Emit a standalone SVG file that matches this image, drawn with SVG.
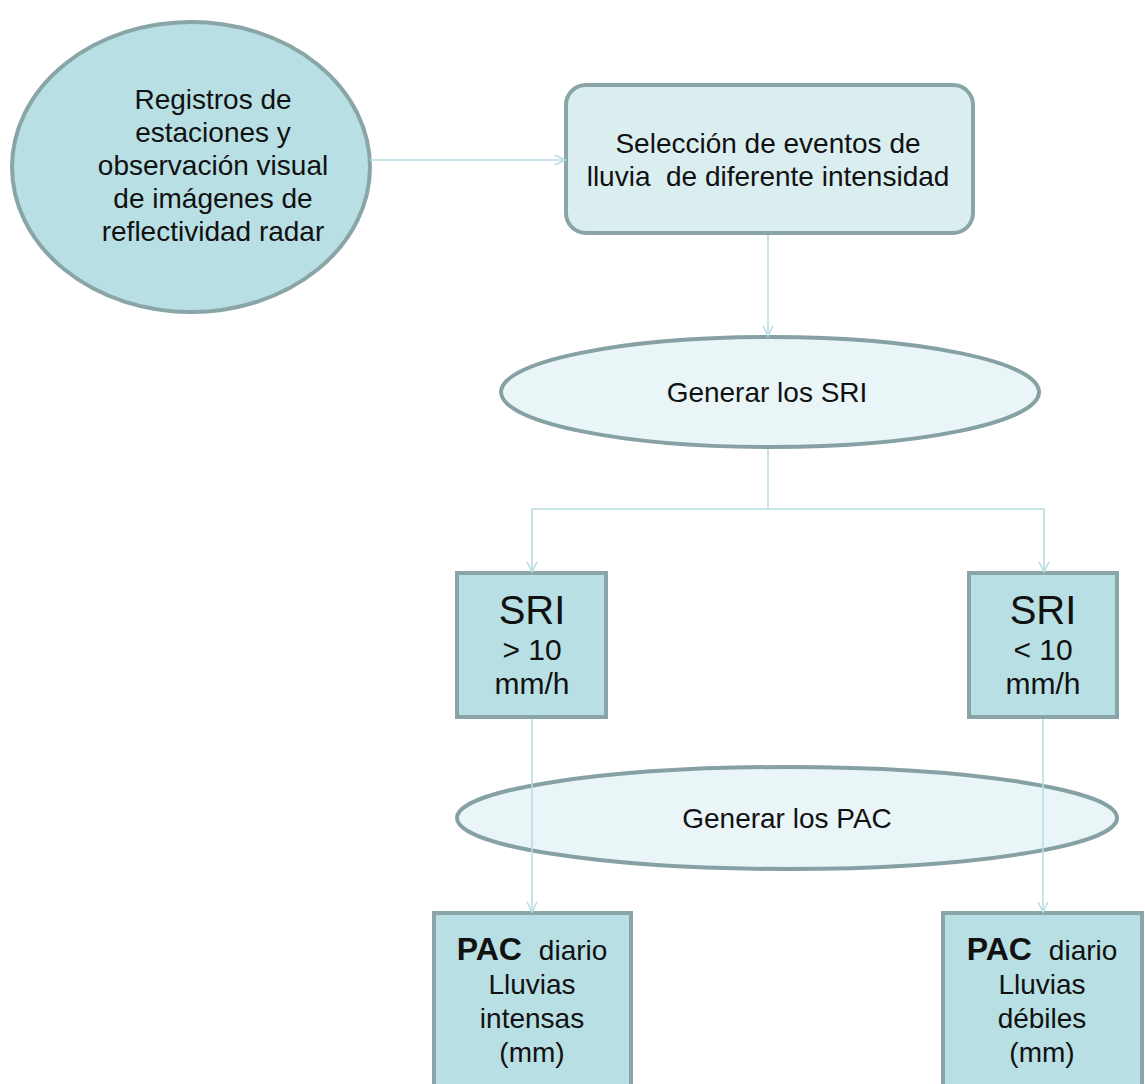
<svg xmlns="http://www.w3.org/2000/svg" width="1145" height="1084" viewBox="0 0 1145 1084">
  <style>
    .t { font-family: "Liberation Sans", Arial, sans-serif; font-size: 28px; fill: #111; text-anchor: middle; }
    .big { font-size: 40px; }
    .mid { font-size: 30px; }
    .bold { font-weight: bold; font-size: 32px; }
    .solid { fill: #b8dfe3; stroke: #8aa5a7; stroke-width: 4; }
    .pale { fill: #daeef0; stroke: #8aa5a7; stroke-width: 4; }
    .light { fill: #eaf5f7; stroke: #86a1a3; stroke-width: 4; }
    .conn { fill: none; stroke: #b9dde2; stroke-width: 1.6; }
  </style>
  <defs>
    <marker id="arrow" viewBox="0 0 12 12" refX="11" refY="6" markerWidth="12" markerHeight="12" markerUnits="userSpaceOnUse" orient="auto">
      <path d="M1,1 L11,6 L1,11" fill="none" stroke="#b9dde2" stroke-width="1.6"/>
    </marker>
  </defs>
  <rect width="1145" height="1084" fill="#ffffff"/>

  <!-- source: station records + radar images -->
  <g id="n-registros">
    <ellipse class="solid" cx="191" cy="167" rx="179" ry="145" stroke-width="3"/>
    <text class="t" x="213"><tspan x="213" y="109">Registros de</tspan><tspan x="213" y="142">estaciones y</tspan><tspan x="213" y="175">observación visual</tspan><tspan x="213" y="208">de imágenes de</tspan><tspan x="213" y="241">reflectividad radar</tspan></text>
  </g>

  <!-- event selection -->
  <g id="n-seleccion">
    <rect class="pale" x="566" y="85" width="407" height="148" rx="20" ry="20"/>
    <text class="t"><tspan x="768" y="153">Selección de eventos de</tspan><tspan x="768" y="186">lluvia&#160; de diferente intensidad</tspan></text>
  </g>

  <!-- SRI generation -->
  <g id="n-gen-sri">
    <ellipse class="light" cx="770" cy="392" rx="269" ry="55"/>
    <text class="t" x="767" y="402">Generar los SRI</text>
  </g>

  <!-- SRI classes -->
  <g id="n-sri-alta">
    <rect class="solid" x="457" y="573" width="149" height="144"/>
    <text class="t"><tspan class="big" x="532" y="624">SRI</tspan><tspan class="mid" x="532" y="660">&gt; 10</tspan><tspan class="mid" x="532" y="694">mm/h</tspan></text>
  </g>
  <g id="n-sri-baja">
    <rect class="solid" x="969" y="573" width="148" height="144"/>
    <text class="t"><tspan class="big" x="1043" y="624">SRI</tspan><tspan class="mid" x="1043" y="660">&lt; 10</tspan><tspan class="mid" x="1043" y="694">mm/h</tspan></text>
  </g>

  <!-- PAC generation -->
  <g id="n-gen-pac">
    <ellipse class="light" cx="787" cy="818" rx="330" ry="51"/>
    <text class="t" x="787" y="828">Generar los PAC</text>
  </g>

  <!-- daily PAC outputs -->
  <g id="n-pac-intensas">
    <rect class="solid" x="434" y="913" width="197" height="180"/>
    <text class="t"><tspan x="532" y="960"><tspan class="bold">PAC</tspan><tspan dx="17">diario</tspan></tspan><tspan x="532" y="994">Lluvias</tspan><tspan x="532" y="1028">intensas</tspan><tspan x="532" y="1062">(mm)</tspan></text>
  </g>
  <g id="n-pac-debiles">
    <rect class="solid" x="943" y="913" width="199" height="180"/>
    <text class="t"><tspan x="1042" y="960"><tspan class="bold">PAC</tspan><tspan dx="17">diario</tspan></tspan><tspan x="1042" y="994">Lluvias</tspan><tspan x="1042" y="1028">débiles</tspan><tspan x="1042" y="1062">(mm)</tspan></text>
  </g>

  <!-- connectors -->
  <g id="connectors">
    <path class="conn" d="M370,160 L565,160" marker-end="url(#arrow)"/>
    <path class="conn" d="M768,235 L768,336" marker-end="url(#arrow)"/>
    <path class="conn" d="M768,449 L768,509 L532,509 L532,572" marker-end="url(#arrow)"/>
    <path class="conn" d="M768,509 L1044,509 L1044,572" marker-end="url(#arrow)"/>
    <path class="conn" d="M532,719 L532,912" marker-end="url(#arrow)"/>
    <path class="conn" d="M1043,719 L1043,912" marker-end="url(#arrow)"/>
  </g>
</svg>
